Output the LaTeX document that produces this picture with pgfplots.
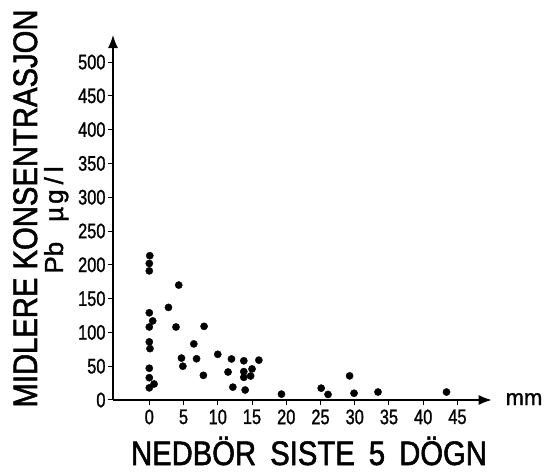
\documentclass[border=0pt]{standalone}
\usepackage{fontspec}
\setmainfont{Liberation Sans}
\newfontfamily\labf[FakeStretch=0.86,FakeBold=1.6]{Liberation Sans}
\newfontfamily\pbf[FakeBold=1.4]{Liberation Sans}
\newfontfamily\tickf[FakeStretch=0.78,FakeBold=1.2]{Liberation Sans}
\usepackage{pgfplots}
\pgfplotsset{compat=1.18}
\usetikzlibrary{arrows.meta}
\begin{document}
\begin{tikzpicture}
\useasboundingbox (-113bp,-72bp) rectangle (433bp,400bp);
\begin{axis}[
  at={(0,0)}, anchor=south west,
  scale only axis, width=378.7bp, height=365bp,
  xmin=-5.3, xmax=50, ymin=0, ymax=540,
  axis lines=left,
  axis line style={line width=1.4bp, -{Latex[length=13bp,width=10bp]}},
  xtick={0,5,...,45}, ytick={0,50,...,500},
  tick align=outside, major tick length=5bp,
  tick style={line width=1bp, black},
  /pgf/number format/assume math mode=true,
  ticklabel style={font=\tickf\fontsize{21bp}{21bp}\selectfont},
  xticklabel style={yshift=-1bp},
  yticklabel style={xshift=1bp},
  clip=false,
]
\addplot[only marks, mark=*, mark size=3.6bp, black] table {
x y
0.07 213.5
0.0 202
0.0 191
4.3 170
2.8 137
0.0 129
0.0 108
0.5 117
3.9 108
8.0 109
0.0 86
0.1 76
6.5 83
4.7 62
4.9 50
6.9 61
10.0 67.6
12.0 60.7
13.8 58
16.0 59
11.5 41.4
13.8 42
15.0 46
13.8 33.5
14.8 35.5
7.9 36.5
0.0 47
0.0 33
0.0 18
0.7 23.7
12.2 19
14.0 14.8
19.3 8.7
25.1 17.5
26.1 8.2
29.25 35.7
29.9 10
33.4 11.8
43.4 11.8
};
\end{axis}
\node[rotate=90, anchor=base, inner sep=0pt, font=\labf\fontsize{34bp}{34bp}\selectfont] at (-76bp,191.5bp) {MIDLERE KONSENTRASJON};
\node[rotate=90, anchor=base, inner sep=0pt, font=\pbf\fontsize{26bp}{26bp}\selectfont] at (-50bp,180bp) {Pb\hspace{20bp}µ\kern3bp g\kern5bp/\kern5bp l};
\node[anchor=base, inner sep=0pt, font=\labf\fontsize{34bp}{34bp}\selectfont] at (196bp,-65bp) {NEDBÖR\hspace{6bp} SISTE\hspace{6bp} 5\hspace{6bp} DÖGN};
\node[anchor=base, inner sep=0pt, font=\pbf\fontsize{22bp}{22bp}\selectfont] at (411bp,-5bp) {mm};
\end{tikzpicture}
\end{document}
